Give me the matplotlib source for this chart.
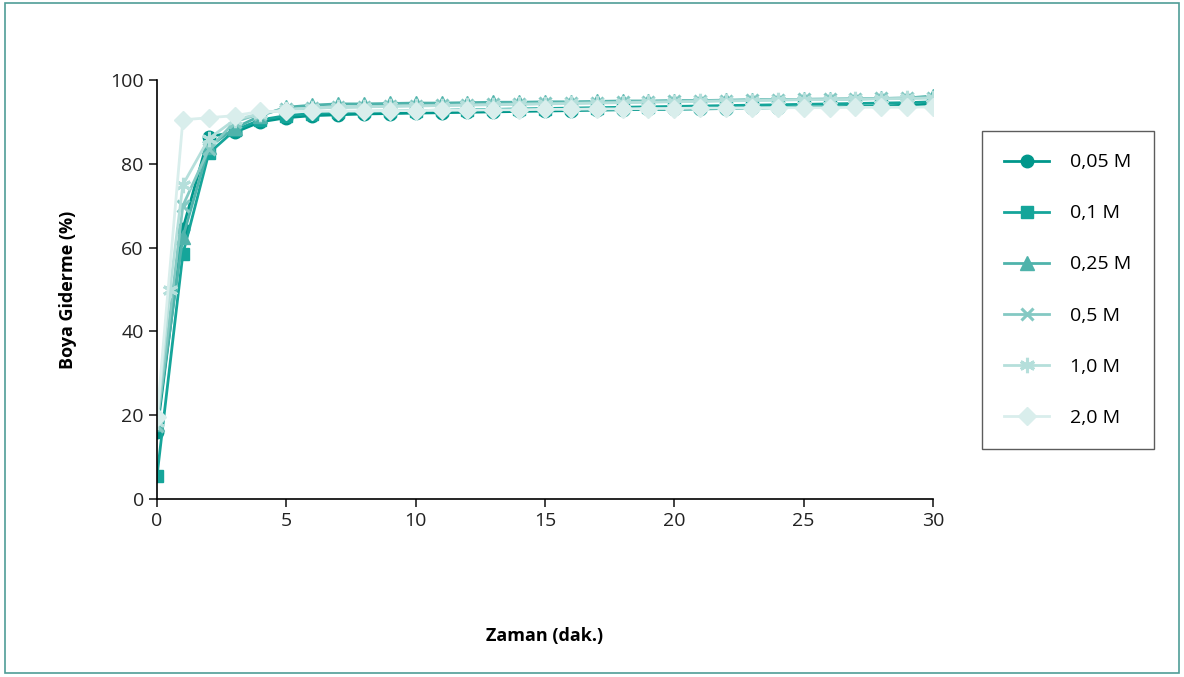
import matplotlib
matplotlib.use('Agg')
import matplotlib.pyplot as plt
from matplotlib.patches import Rectangle

plt.rcParams['font.family'] = ['Open Sans', 'DejaVu Sans']

# time (minutes)
t = list(range(0, 31))

# dye removal (%) per concentration
c005 = [16, 64.5, 86.5, 87.5, 90, 91, 91.5, 91.7, 91.9, 92, 92.1, 92.2, 92.3, 92.4, 92.5, 92.6,
        92.7, 92.8, 92.9, 93, 93, 93.1, 93.2, 93.3, 93.4, 93.5, 93.6, 93.7, 93.8, 94, 94.3]
c01 = [5.5, 58.5, 82.5, 88, 90.5, 91.5, 92, 92.3, 92.5, 92.6, 92.7, 92.8, 92.9, 93, 93.1, 93.2,
       93.3, 93.4, 93.5, 93.6, 93.7, 93.8, 93.9, 94, 94.1, 94.2, 94.3, 94.4, 94.5, 94.6, 94.8]
c025 = [18, 62.5, 84, 88.5, 91.5, 93.5, 94, 94.3, 94.3, 94.4, 94.5, 94.5, 94.6, 94.7, 94.7, 94.8,
        94.8, 94.9, 95, 95, 95.1, 95.1, 95.2, 95.3, 95.3, 95.4, 95.4, 95.5, 95.6, 95.7, 96.2]
c05 = [17.5, 70, 83.5, 90, 92, 93, 93.3, 93.5, 93.6, 93.8, 93.9, 94, 94.1, 94.2, 94.3, 94.4,
       94.5, 94.6, 94.7, 94.8, 94.9, 95, 95.1, 95.2, 95.3, 95.4, 95.5, 95.5, 95.6, 95.7, 95.8]
t10 = [0, 0.5] + list(range(1, 31))
c10 = [18.5, 50, 75, 86, 90.5, 92, 93, 93.3, 93.5, 93.6, 93.7, 93.8, 93.9, 94, 94.1, 94.2, 94.3,
       94.4, 94.5, 94.6, 94.7, 94.8, 94.9, 95, 95.1, 95.2, 95.3, 95.3, 95.4, 95.5, 95.6, 95.7]
c20 = [19.5, 90.5, 91, 91.5, 92.5, 92.5, 92.5, 92.6, 92.6, 92.7, 92.7, 92.8, 92.8, 92.9, 92.9, 93,
       93, 93.1, 93.1, 93.2, 93.2, 93.3, 93.3, 93.3, 93.4, 93.4, 93.4, 93.5, 93.5, 93.5, 93.6]

asterisk = (6, 2, 0)
series = [
    (t, c005, '0,05 M', 'o', '#00978b', 9),
    (t, c01, '0,1 M', 's', '#15a59a', 8.5),
    (t, c025, '0,25 M', '^', '#4fb3ab', 10),
    (t, c05, '0,5 M', 'x', '#84c9c3', 9),
    (t10, c10, '1,0 M', asterisk, '#b5dfdb', 11),
    (t, c20, '2,0 M', 'D', '#d9eeec', 9),
]

fig = plt.figure(figsize=(11.84, 6.77), dpi=100)
fig.patches.append(Rectangle((0.004, 0.006), 0.992, 0.99, transform=fig.transFigure,
                             fill=False, edgecolor='#4f9d97', linewidth=1.2))

ax = fig.add_axes([0.1326, 0.2629, 0.6554, 0.6189])
for x, y, lab, mk, col, ms in series:
    thin = mk in ('x', asterisk)
    ax.plot(x, y, color=col, marker=mk, markersize=ms, linewidth=2.0, label=lab,
            markeredgewidth=2.2 if thin else 1, markeredgecolor=col)

ax.set_xlim(0, 30)
ax.set_ylim(0, 100)
ax.set_xticks(range(0, 31, 5))
ax.set_yticks(range(0, 101, 20))
ax.spines['top'].set_visible(False)
ax.spines['right'].set_visible(False)
ax.spines['left'].set_linewidth(1.2)
ax.spines['bottom'].set_linewidth(1.2)
ax.tick_params(labelsize=14, length=6, width=1.2, direction='out', colors='#222222')
ax.set_xlabel('Zaman (dak.)', fontsize=13, fontweight='bold', labelpad=70)
ax.set_ylabel('Boya Giderme (%)', fontsize=13, fontweight='bold', labelpad=24)

leg = ax.legend(loc='upper left', bbox_to_anchor=(0.8294, 0.8065), bbox_transform=fig.transFigure,
                fontsize=14, frameon=True, fancybox=False, edgecolor='#333333',
                handlelength=2.3, handletextpad=1.1, labelspacing=1.7, borderpad=1.15,
                borderaxespad=0)
leg.get_frame().set_linewidth(1.0)

fig.savefig('out.png', dpi=100)
